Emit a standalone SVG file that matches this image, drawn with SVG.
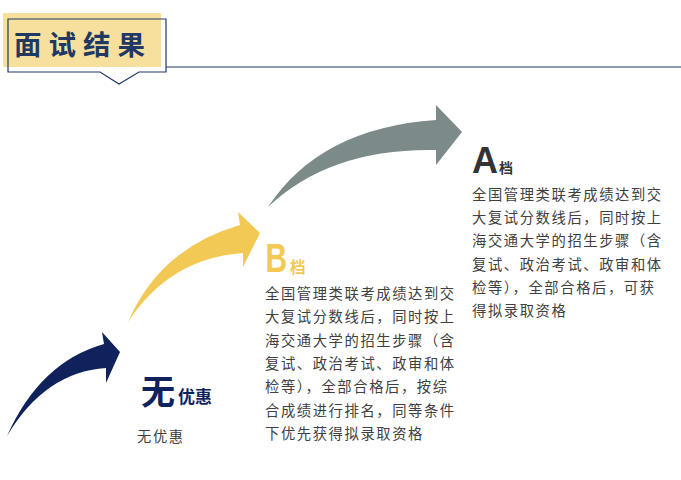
<svg xmlns="http://www.w3.org/2000/svg" width="681" height="480" viewBox="0 0 681 480">
<style>
.body{font-family:"Noto Sans CJK SC","Liberation Sans",sans-serif;font-size:14.3px;fill:#404040;letter-spacing:1.6px}
.big{font-family:"Liberation Sans","Noto Sans CJK SC",sans-serif;font-weight:bold}
.cjkb{font-family:"Noto Sans CJK SC",sans-serif;font-weight:bold}
</style>
<rect width="681" height="480" fill="#ffffff"/>
<g id="header">
<rect x="3" y="13" width="158" height="54" fill="#f7e09e"/>
<path d="M166 67 H681" stroke="#1f3864" stroke-width="1.2" fill="none"/>
<path d="M8 19 H166 V72 H139 L119 84 L100 72 H8 Z" fill="none" stroke="#1f3864" stroke-width="1.2"/>
<text x="14" y="55" class="cjkb" font-size="27.5" font-weight="900" fill="#1f3864" letter-spacing="7">面试结果</text>
</g>
<g id="connectors">
<path d="M7 436 Q40 362 104 344 L102 332 L120 352 L106 383 L106 368 Q45 372 7 436 Z" fill="#10225c"/>
<path d="M128 322 Q160 248 240 225 L238 212 L260 233 L243 267 L243 253 Q170 258 128 322 Z" fill="#f3c955"/>
<path d="M268 207 Q320 128 436 120 L436 105 L462 132 L436 165 L436 150 Q330 148 268 207 Z" fill="#7c8b8a"/>
</g>
<g id="none">
<text x="141" y="404" class="cjkb" font-size="34" fill="#10225c">无</text>
<text x="178" y="403" class="cjkb" font-size="17" fill="#10225c">优惠</text>
<text x="137" y="442" class="body" letter-spacing="0">无优惠</text>
</g>
<g id="gradeB">
<text transform="translate(265.5,272) scale(1,1.35)" class="big" font-size="30" fill="#f3c955">B</text>
<text x="290" y="273" class="cjkb" font-size="15.5" fill="#f3c955">档</text>
<text class="body" x="265">
<tspan x="265" y="299">全国管理类联考成绩达到交</tspan>
<tspan x="265" y="322.3">大复试分数线后，同时按上</tspan>
<tspan x="265" y="345.7">海交通大学的招生步骤（含</tspan>
<tspan x="265" y="369">复试、政治考试、政审和体</tspan>
<tspan x="265" y="392.3">检等），全部合格后，按综</tspan>
<tspan x="265" y="415.7">合成绩进行排名，同等条件</tspan>
<tspan x="265" y="439">下优先获得拟录取资格</tspan>
</text>
</g>
<g id="gradeA">
<text x="472" y="173" class="big" font-size="36" fill="#333333">A</text>
<text x="499" y="173" class="cjkb" font-size="14" fill="#333333">档</text>
<text class="body" x="472">
<tspan x="472" y="199.5">全国管理类联考成绩达到交</tspan>
<tspan x="472" y="222.8">大复试分数线后，同时按上</tspan>
<tspan x="472" y="246.2">海交通大学的招生步骤（含</tspan>
<tspan x="472" y="269.5">复试、政治考试、政审和体</tspan>
<tspan x="472" y="292.8">检等），全部合格后，可获</tspan>
<tspan x="472" y="316">得拟录取资格</tspan>
</text>
</g>
</svg>
